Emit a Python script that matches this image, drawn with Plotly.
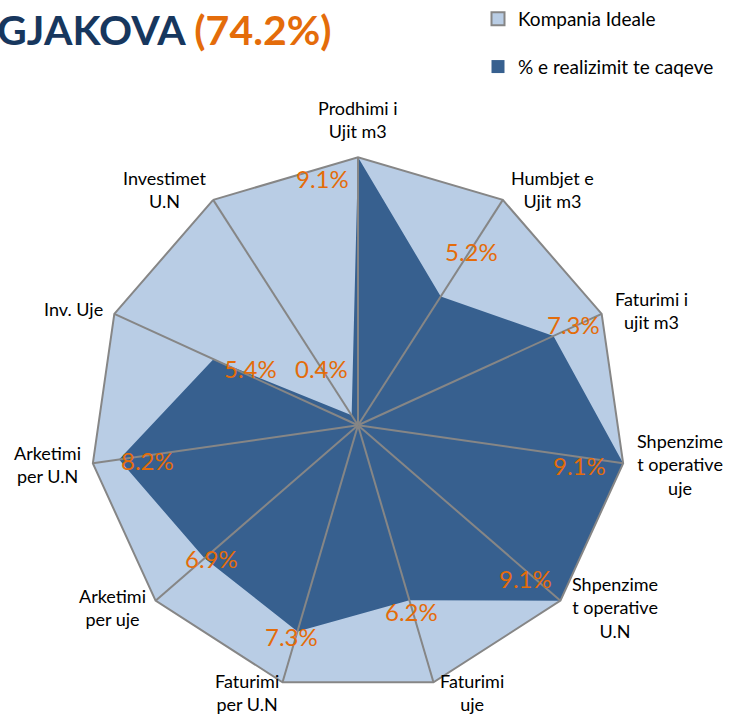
import math
import plotly.graph_objects as go

# ---- data ----
categories = ["Prodhimi i Ujit m3", "Humbjet e Ujit m3", "Faturimi i ujit m3",
              "Shpenzimet operative uje", "Shpenzimet operative U.N", "Faturimi uje",
              "Faturimi per U.N", "Arketimi per uje", "Arketimi per U.N",
              "Inv. Uje", "Investimet U.N"]
tick_labels = ["Prodhimi i<br>Ujit m3", "Humbjet e<br>Ujit m3", "Faturimi i<br>ujit m3",
               "Shpenzime<br>t operative<br>uje", "Shpenzime<br>t operative<br>U.N",
               "Faturimi<br>uje", "Faturimi<br>per U.N", "Arketimi<br>per uje",
               "Arketimi<br>per U.N", "Inv. Uje", "Investimet<br>U.N"]
ideal = [9.1, 9.1, 9.1, 9.1, 9.1, 9.1, 9.1, 9.1, 9.1, 9.1, 9.1]
realized = [9.1, 5.2, 7.3, 9.1, 9.1, 6.2, 7.3, 6.9, 8.2, 5.4, 0.4]
series_names = ["Kompania Ideale", "% e realizimit te caqeve"]
title_city = "GJAKOVA"
title_total = "(74.2%)"

# ---- styles ----
LIGHT = "#B9CDE5"
DARK = "#37608F"
GRID = "#868686"
ORANGE = "#E46C0A"
NAVY = "#17375E"
FONT = "Lato"
W, H = 729, 719
# polar domain in pixels (square)
PX0, PX1 = 89, 627
PY0, PY1 = 155, 693
dom_x = [PX0 / W, PX1 / W]
dom_y = [1 - PY1 / H, 1 - PY0 / H]
# value-label pixel offsets (dx right, dy down) per point
label_offsets = [(-36, 21), (30, -45), (19, -11), (-45, 2), (-36, -22), (2, 11),
                 (-6, 5), (8, 0), (29, 1), (38, 9), (-30, -47)]
# category-label pixel offsets from the outer vertex (dx right, dy down)
cat_offsets = [(0, -38), (49, -10), (49, -3), (56, 1), (54, 7), (38, 10),
               (-35, 10), (-42, 7), (-44, 1), (-40, -5), (-48, -10)]

rmax = max(ideal)
n = len(categories)

fig = go.Figure()
# Ideal polygon
fig.add_trace(go.Scatterpolar(
    r=ideal + ideal[:1], theta=categories + categories[:1],
    fill="toself", fillcolor=LIGHT, mode="lines", line=dict(width=0, color=LIGHT),
    name=series_names[0], showlegend=False, hoverinfo="skip"))
# Realized polygon
fig.add_trace(go.Scatterpolar(
    r=realized + realized[:1], theta=categories + categories[:1],
    fill="toself", fillcolor=DARK, mode="lines", line=dict(width=0, color=DARK),
    name=series_names[1], showlegend=False))
# spokes above fills
sp_r, sp_t = [], []
for c, v in zip(categories, ideal):
    sp_r += [0, v, None]
    sp_t += [c, c, None]
fig.add_trace(go.Scatterpolar(r=sp_r, theta=sp_t, mode="lines",
                              line=dict(color=GRID, width=2), showlegend=False,
                              hoverinfo="skip", connectgaps=False))
# legend entries (square swatches)
fig.add_trace(go.Scatterpolar(r=[None], theta=[categories[0]], mode="markers",
                              marker=dict(symbol="square", size=13, color=LIGHT,
                                          line=dict(color=GRID, width=2)),
                              name=series_names[0], legendgroup="a"))
fig.add_trace(go.Scatterpolar(r=[None], theta=[categories[0]], mode="markers",
                              marker=dict(symbol="square", size=13, color=DARK),
                              name=series_names[1], legendgroup="b"))
# invisible cartesian overlay for label placement
fig.add_trace(go.Scatter(x=[None], y=[None], mode="markers", showlegend=False,
                         hoverinfo="skip"))

annotations = []
for i, v in enumerate(realized):
    ang = math.radians(90 - i * 360 / n)
    dx, dy = label_offsets[i]
    annotations.append(dict(
        x=v * math.cos(ang), y=v * math.sin(ang), xref="x", yref="y",
        text=f"{v:.1f}%", showarrow=False, xshift=dx, yshift=-dy,
        font=dict(family=FONT, size=24, color=ORANGE)))

for i, v in enumerate(ideal):
    ang = math.radians(90 - i * 360 / n)
    dx, dy = cat_offsets[i]
    annotations.append(dict(
        x=v * math.cos(ang), y=v * math.sin(ang), xref="x", yref="y",
        text=tick_labels[i], showarrow=False, xshift=dx, yshift=-dy,
        xanchor="center", yanchor="middle", align="center",
        font=dict(family=FONT, size=18, color="black")))

annotations.append(dict(
    x=0, y=1, xref="paper", yref="paper", xanchor="left", yanchor="top",
    xshift=-5, yshift=0, showarrow=False,
    text=f"<b><span style='color:{NAVY}'>{title_city}</span> "
         f"<span style='color:{ORANGE}'>{title_total}</span></b>",
    font=dict(family=FONT, size=41, color=NAVY)))

fig.update_layout(
    width=W, height=H,
    margin=dict(l=0, r=0, t=0, b=0),
    paper_bgcolor="white", plot_bgcolor="rgba(0,0,0,0)",
    font=dict(family=FONT, size=16, color="black"),
    polar=dict(
        domain=dict(x=dom_x, y=dom_y),
        bgcolor="rgba(0,0,0,0)",
        gridshape="linear",
        radialaxis=dict(visible=False, range=[0, rmax], showgrid=False),
        angularaxis=dict(direction="clockwise", rotation=90, showgrid=False,
                         showline=True, linecolor=GRID, linewidth=2,
                         ticks="", showticklabels=False, categoryorder="array",
                         categoryarray=categories, layer="above traces"),
    ),
    xaxis=dict(domain=dom_x, range=[-rmax, rmax], visible=False, fixedrange=True),
    yaxis=dict(domain=dom_y, range=[-rmax, rmax], visible=False, fixedrange=True),
    legend=dict(x=478 / W, y=1 + 3 / H, xanchor="left", yanchor="top",
                font=dict(family=FONT, size=19, color="black"),
                tracegroupgap=20, bgcolor="rgba(0,0,0,0)"),
    annotations=annotations,
    showlegend=True,
)

fig.write_html("out.html", config={"displayModeBar": False},
               post_script="document.body.style.margin='0';")
